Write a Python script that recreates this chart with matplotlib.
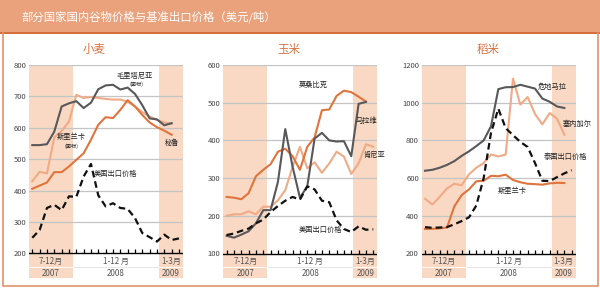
import numpy as np
import matplotlib
matplotlib.use("Agg")
import matplotlib.pyplot as plt
from matplotlib.patches import Rectangle
from matplotlib.lines import Line2D

plt.rcParams["font.family"] = ["Noto Sans CJK SC", "DejaVu Sans"]

# months: Jul 2007 .. Mar 2009 -> index 0..20
period_labels = ["7-12月", "1-12 月", "1-3月"]
year_labels = ["2007", "2008", "2009"]

# wheat (US$/t)
wheat_mauritania = [545, 545, 548, 588, 668, 678, 685, 663, 680, 723, 735, 737,
                    722, 728, 708, 672, 630, 627, 608, 615]
wheat_srilanka = [430, 460, 455, 570, 590, 620, 705, 695, 698, 695, 692, 690,
                  690, 683, 668, 650, 636, 625, 617, 612]
wheat_peru = [406, 416, 426, 459, 459, 477, 498, 519, 562, 610, 634, 631,
              657, 688, 668, 641, 617, 602, 591, 578]
wheat_us = [250, 275, 345, 355, 338, 382, 380, 445, 485, 385, 350, 360,
            345, 342, 313, 265, 252, 238, 260, 243, 248]

# maize
maize_mozambique = [250, 248, 244, 260, 305, 322, 337, 370, 378, 358, 322, 383,
                    408, 480, 482, 518, 532, 528, 516, 503]
maize_malawi = [147, 142, 150, 159, 180, 215, 215, 290, 430, 330, 248, 278,
                405, 420, 400, 397, 398, 358, 497, 502]
maize_kenya = [200, 204, 204, 212, 204, 224, 224, 241, 268, 330, 383, 326,
               342, 314, 339, 370, 357, 311, 339, 390, 383]
maize_us = [149, 153, 160, 166, 180, 190, 210, 226, 240, 250, 243, 278,
            270, 240, 236, 188, 165, 157, 172, 163, 164]

# rice
rice_guatemala = [639, 644, 655, 670, 690, 718, 742, 770, 800, 875, 1072, 1082,
                  1083, 1095, 1085, 1075, 1022, 1005, 980, 972]
rice_senegal = [490, 460, 500, 545, 570, 562, 620, 655, 680, 725, 715, 725,
                1128, 990, 1030, 940, 885, 945, 915, 830]
rice_srilanka = [330, 331, 333, 338, 450, 510, 540, 583, 586, 612, 610, 618,
                 590, 578, 570, 568, 565, 572, 575, 574]
rice_thai = [340, 336, 338, 340, 355, 372, 392, 455, 600, 840, 968, 865,
             828, 792, 765, 680, 586, 584, 605, 625, 642]

ORANGE = "#E0743C"
SALMON = "#F0AA86"
GREY = "#58585A"
SHADE = "#F9D9C4"
TITLE = "#D9713F"

panels = [
    dict(title="小麦", left=29, top=800, bottom=200, step=100, title_x=94.5,
         series=[(wheat_srilanka, SALMON, "-"), (wheat_peru, ORANGE, "-"),
                 (wheat_mauritania, GREY, "-"), (wheat_us, "#111111", "--")],
         labels=[("毛里塔尼亚", 14.0, 765, 5.2), ("(面粉)", 14.2, 740, 3.8),
                 ("斯里兰卡", 5.3, 571, 5.2), ("(面粉)", 5.4, 542, 3.8),
                 ("秘鲁", 19.1, 552, 5.2), ("美国出口价格", 11.3, 453, 5.2)]),
    dict(title="玉米", left=223.3, top=600, bottom=100, step=100, title_x=289,
         series=[(maize_kenya, SALMON, "-"), (maize_mozambique, ORANGE, "-"),
                 (maize_malawi, GREY, "-"), (maize_us, "#111111", "--")],
         labels=[("莫桑比克", 11.8, 547, 5.2), ("马拉维", 19.1, 451, 5.2),
                 ("肯尼亚", 20.1, 361, 5.2), ("美国出口价格", 12.8, 162, 5.2)]),
    dict(title="稻米", left=421.7, top=1200, bottom=200, step=200, title_x=487.7,
         series=[(rice_senegal, SALMON, "-"), (rice_srilanka, ORANGE, "-"),
                 (rice_guatemala, GREY, "-"), (rice_thai, "#111111", "--")],
         labels=[("危地马拉", 17.4, 1084, 5.2), ("塞内加尔", 20.7, 888, 5.2),
                 ("泰国出口价格", 19.1, 713, 5.2), ("斯里兰卡", 11.9, 533, 5.2)]),
]

W, H = 600, 288
fig = plt.figure(figsize=(6, 2.88), dpi=100)
fig.patch.set_facecolor("white")

# title band and frame
fig.patches.append(Rectangle((0, 1 - 32 / H), 1, 32 / H, transform=fig.transFigure,
                             facecolor="#E9A27C", edgecolor="none", zorder=0))
fig.lines.append(Line2D([0, 1], [1 - 33 / H] * 2, transform=fig.transFigure,
                        color="#D46A38", lw=1.4))
fig.lines.append(Line2D([2.5 / W, 2.5 / W, 597.5 / W, 597.5 / W],
                        [1 - 33 / H, 1 - 285.5 / H, 1 - 285.5 / H, 1 - 33 / H],
                        transform=fig.transFigure, color="#E3926A", lw=1.2))
fig.text(21 / W, 1 - 17 / H, "部分国家国内谷物价格与基准出口价格（美元/吨）",
         color="white", fontsize=8.2, va="center", ha="left")

XMIN, XMAX = -0.45, 20.55
SH1, SH2 = 5.55, 17.28
ax_top, ax_bot, axis_y = 65, 278, 253.5

for p in panels:
    ax = fig.add_axes([p["left"] / W, 1 - ax_bot / H, 154 / W, (ax_bot - ax_top) / H])
    rng = p["top"] - p["bottom"]
    ymin = p["bottom"] - rng * (ax_bot - axis_y) / (axis_y - ax_top)
    ax.set_xlim(XMIN, XMAX)
    ax.set_ylim(ymin, p["top"])
    for s in ax.spines.values():
        s.set_visible(False)

    ax.axvspan(XMIN, SH1, color=SHADE, lw=0, zorder=0)
    ax.axvspan(SH2, XMAX, color=SHADE, lw=0, zorder=0)

    yt = list(range(p["bottom"], p["top"] + 1, p["step"]))
    for v in yt[1:]:
        ax.axhline(v, color="#C4C4C4", lw=0.9, zorder=1)
    ax.set_yticks(yt)
    ax.set_yticklabels([str(v) for v in yt])
    ax.tick_params(axis="y", length=0, pad=2, labelsize=5.5, labelcolor="#444444")
    ax.set_xticks([])

    # x axis with upward ticks
    ax.axhline(p["bottom"], color="black", lw=1.0, zorder=5)
    tick_len = rng * 4 / (axis_y - ax_top)
    ax.vlines(np.arange(21), p["bottom"], p["bottom"] + tick_len, color="black",
              lw=0.9, zorder=5)

    for vals, col, ls in p["series"]:
        x = np.arange(len(vals))
        if ls == "--":
            ax.plot(x, vals, color=col, lw=1.6, linestyle=(0, (3, 1.8)), zorder=4)
        else:
            ax.plot(x, vals, color=col, lw=1.5, zorder=3)

    for txt, mx, my, fs in p["labels"]:
        ax.text(mx, my, txt, fontsize=fs, color="#222222", ha="center", va="center",
                fontweight="medium", zorder=6, clip_on=False)

    centers = [(XMIN + SH1) / 2, (SH1 + SH2) / 2, (SH2 + XMAX) / 2]
    tr = ax.get_xaxis_transform()
    for c, pl, yl in zip(centers, period_labels, year_labels):
        ax.text(c, 0.08, pl, transform=tr, fontsize=5.8, color="#555555",
                ha="center", va="center")
        ax.text(c, 0.019, yl, transform=tr, fontsize=5.8, color="#555555",
                ha="center", va="center")
    ax.plot([SH1, SH2], [0.053, 0.053], transform=tr, color="#E2E2E2", lw=0.6)
    ax.plot([XMIN, SH1], [0.053, 0.053], transform=tr, color="white", lw=0.6)
    ax.plot([SH2, XMAX], [0.053, 0.053], transform=tr, color="white", lw=0.6)

    fig.text(p["title_x"] / W, 1 - 49 / H, p["title"], fontsize=8.3, color=TITLE,
             ha="center", va="center")

fig.savefig("out.png", dpi=100)
